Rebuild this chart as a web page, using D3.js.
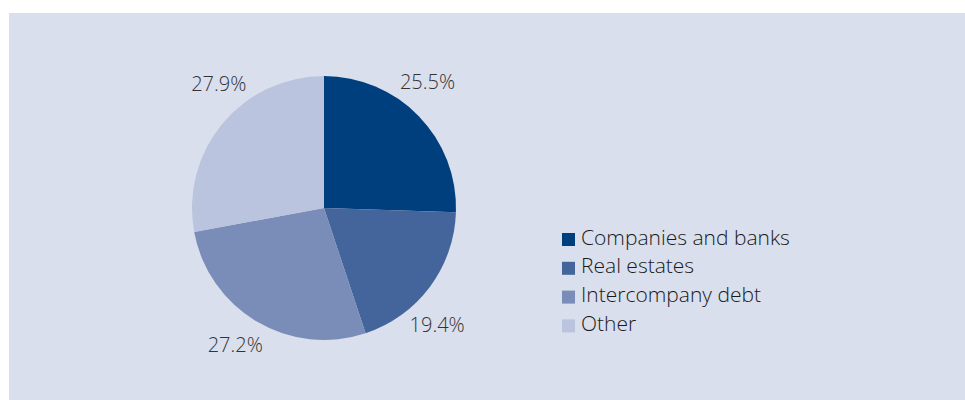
<!DOCTYPE html>
<html>
<head>
<meta charset="utf-8">
<script src="https://cdn.jsdelivr.net/npm/d3@7"></script>
<style>
  body { margin: 0; background: #fff; }
  svg { display: block; font-family: "Open Sans", "Noto Sans", sans-serif; }
</style>
</head>
<body>
<div id="chart"></div>
<script>
const categories = ["Companies and banks", "Real estates", "Intercompany debt", "Other"];
const shares = [25.5, 19.4, 27.2, 27.9];
const labels = ["25.5%", "19.4%", "27.2%", "27.9%"];
const colors = ["#003f7e", "#44659b", "#7a8db8", "#bbc4de"];

const width = 965, height = 400;
const svg = d3.select("#chart").append("svg")
  .attr("width", width)
  .attr("height", height);

// panel
svg.append("rect")
  .attr("x", 9).attr("y", 13)
  .attr("width", 956).attr("height", 387)
  .attr("fill", "#d9dfec");

const cx = 324, cy = 208, r = 132;

const pie = d3.pie().sort(null).value(d => d)(shares);
const arc = d3.arc().innerRadius(0).outerRadius(r);

const g = svg.append("g").attr("transform", `translate(${cx},${cy})`);

g.selectAll("path")
  .data(pie)
  .join("path")
  .attr("d", arc)
  .attr("fill", (d, i) => colors[i]);

// labels outside the pie, nudged a bit in angle like the original
const labelR = 163;
const angleNudge = [-6.5, 9.3, 2.4, 10].map(a => a * Math.PI / 180);
g.selectAll("text.label")
  .data(pie)
  .join("text")
  .attr("class", "label")
  .attr("text-anchor", "middle")
  .attr("dy", "0.35em")
  .attr("x", (d, i) => labelR * Math.sin((d.startAngle + d.endAngle) / 2 + angleNudge[i]))
  .attr("y", (d, i) => -labelR * Math.cos((d.startAngle + d.endAngle) / 2 + angleNudge[i]))
  .attr("font-size", 20)
  .attr("font-weight", 300)
  .attr("fill", "#333")
  .text((d, i) => labels[i]);

// legend
const legend = svg.append("g").attr("transform", "translate(562,233)");
const row = legend.selectAll("g")
  .data(categories)
  .join("g")
  .attr("transform", (d, i) => `translate(0,${i * 28.8})`);

row.append("rect")
  .attr("width", 13).attr("height", 13)
  .attr("fill", (d, i) => colors[i]);

row.append("text")
  .attr("x", 19).attr("y", 11.5)
  .attr("font-size", 21)
  .attr("font-weight", 300)
  .attr("fill", "#1a1a1a")
  .text(d => d);
</script>
</body>
</html>
